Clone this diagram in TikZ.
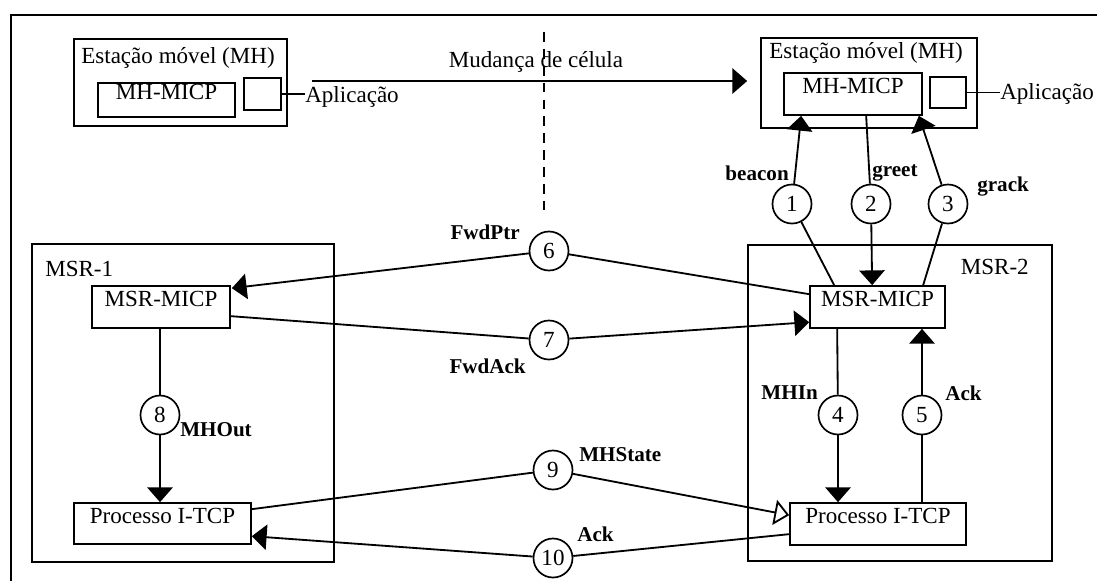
\documentclass[tikz,border=0pt]{standalone}
\usepackage{fontspec}
\setmainfont{Liberation Serif}
\usetikzlibrary{arrows.meta,calc,fit}
\begin{document}
\begin{tikzpicture}[x=0.025cm,y=-0.025cm,
  font=\fontsize{16.4}{19}\selectfont,
  box/.style={draw,line width=1.2pt,inner sep=0pt},
  appbox/.style={draw,line width=1pt,inner sep=0pt},
  num/.style={draw,circle,line width=1.2pt,minimum size=0.975cm,inner sep=0pt},
  txt/.style={inner sep=0pt},
  lbl/.style={inner sep=0pt,font=\fontsize{15}{18}\selectfont\bfseries},
  link/.style={line width=1.3pt},
  tip/.style={-{Triangle[length=10.5pt,width=18pt]}},
  opentip/.style={-{Triangle[open,length=10.5pt,width=18pt]}},
  cellcut/.style={line width=1.3pt,dash pattern=on 7pt off 5pt}]
\useasboundingbox (0,0) rectangle (1097,581);

% outer frame (open towards the right and bottom)
\coordinate (fbl) at (11,581);
\coordinate (ftl) at (11,15);
\coordinate (ftr) at (1097,15);
\draw[line width=1.5pt] (fbl) -- (ftl) -- (ftr);

% mobile host before the handoff
\node[box,fit={(74,39) (287,126)}] (mh1) {};
\node[txt,anchor=west] (mh1t) at (81,58) {Estação móvel (MH)};
\node[box,fit={(98,83) (235,117)}] (mhmicp1) {MH-MICP};
\node[appbox,fit={(244,78) (281,110)}] (app1) {};
\node[txt,anchor=west] (ap1) at (305,97) {Aplicação};
\draw[line width=1pt] (app1.east) -- (app1.east -| ap1.west);

% mobile host after the handoff
\node[box,fit={(761,38) (977,128)}] (mh2) {};
\node[txt,anchor=west] (mh2t) at (769,53) {Estação móvel (MH)};
\node[box,fit={(784,73) (922,115)}] (mhmicp2) {MH-MICP};
\node[appbox,fit={(930,77) (966,108)}] (app2) {};
\node[txt,anchor=west] (ap2) at (1000,94) {Aplicação};
\draw[line width=1pt] (app2.east) -- (app2.east -| ap2.west);

% cell change
\coordinate (mstart) at (312,81);
\draw[link,tip] (mstart) -- ($(mh2.west |- mstart)+(-13,0)$);
\node[txt] (mlbl) at (536,62) {Mudança de célula};
\coordinate (d1) at (544,32);
\coordinate (d2) at (544,210);
\draw[cellcut] (d1) -- (d2);

% support routers
\node[box,fit={(32,244) (334,562)}] (msr1) {};
\node[txt,anchor=west] (msr1t) at (45,269) {MSR-1};
\node[box,fit={(92,286) (230,328)}] (msrmicp1) {MSR-MICP};
\node[box,fit={(74,503) (251,544)}] (proc1) {Processo I-TCP};

\node[box,fit={(748,245) (1052,561)}] (msr2) {};
\node[txt,anchor=east] (msr2t) at (1029,267) {MSR-2};
\node[box,fit={(810,286) (945,328)}] (msrmicp2) {MSR-MICP};
\node[box,fit={(790,503) (966,545)}] (proc2) {Processo I-TCP};

% message numbers
\node[num] (c1) at (792,204) {1};
\node[num] (c2) at (871,204) {2};
\node[num] (c3) at (948,204) {3};
\node[num] (c4) at (838,415) {4};
\node[num] (c5) at (922,415) {5};
\node[num] (c6) at (549,251) {6};
\node[num] (c7) at (549,340) {7};
\node[num] (c8) at (160,415) {8};
\node[num] (c9) at (553,470) {9};
\node[num] (c10) at (553,558) {10};

% 1-3: beacon, greet, grack
\draw[link,tip] (c1) -- ($(mhmicp2.south west)+(18,0)$);
\draw[link] ($(msrmicp2.north west)+(25,0)$) -- (c1);
\draw[link] ($(mhmicp2.south west)+(83,0)$) -- (c2);
\draw[link,tip] (c2) -- ($(msrmicp2.north west)+(63,0)$);
\draw[link,tip] (c3) -- ($(mhmicp2.south east)+(-4,0)$);
\draw[link] ($(msrmicp2.north west)+(114,0)$) -- (c3);
\node[lbl,anchor=east] (lbeacon) at (789,173) {beacon};
\node[lbl,anchor=west] (lgreet) at (872,173) {greet};
\node[lbl,anchor=west] (lgrack) at (977,187) {grack};

% 4-5: MHIn, Ack
\draw[link] ($(msrmicp2.south west)+(28,0)$) -- (c4);
\draw[link,tip] (c4) -- (c4 |- proc2.north);
\draw[link] (c5 |- proc2.north) -- (c5);
\draw[link,tip] (c5) -- (c5 |- msrmicp2.south);
\node[lbl,anchor=east] (lmhin) at (818,393) {MHIn};
\node[lbl,anchor=west] (lack5) at (945,393) {Ack};

% 6-7: FwdPtr, FwdAck
\draw[link] ($(msrmicp2.north west)+(0,9)$) -- (c6);
\draw[link,tip] (c6) -- ($(msrmicp1.north east)+(1,3)$);
\draw[link] ($(msrmicp1.north east)+(0,31)$) -- (c7);
\draw[link,tip] (c7) -- ($(msrmicp2.north west)+(0,37)$);
\node[lbl,anchor=east] (lfwdptr) at (520,232) {FwdPtr};
\node[lbl,anchor=east] (lfwdack) at (526,366) {FwdAck};

% 8: MHOut
\draw[link] (c8 |- msrmicp1.south) -- (c8);
\draw[link,tip] (c8) -- (c8 |- proc1.north);
\node[lbl,anchor=west] (lmhout) at (180,430) {MHOut};

% 9-10: MHState, Ack
\draw[link] ($(proc1.north east)+(0,7)$) -- (c9);
\draw[link,opentip] (c9) -- ($(proc2.north west)+(0,13)$);
\draw[link] ($(proc2.north west)+(0,32)$) -- (c10);
\draw[link,tip] (c10) -- ($(proc1.north east)+(0,34)$);
\node[lbl,anchor=west] (lmhstate) at (579,455) {MHState};
\node[lbl,anchor=west] (lack10) at (577,534) {Ack};
\end{tikzpicture}
\end{document}
